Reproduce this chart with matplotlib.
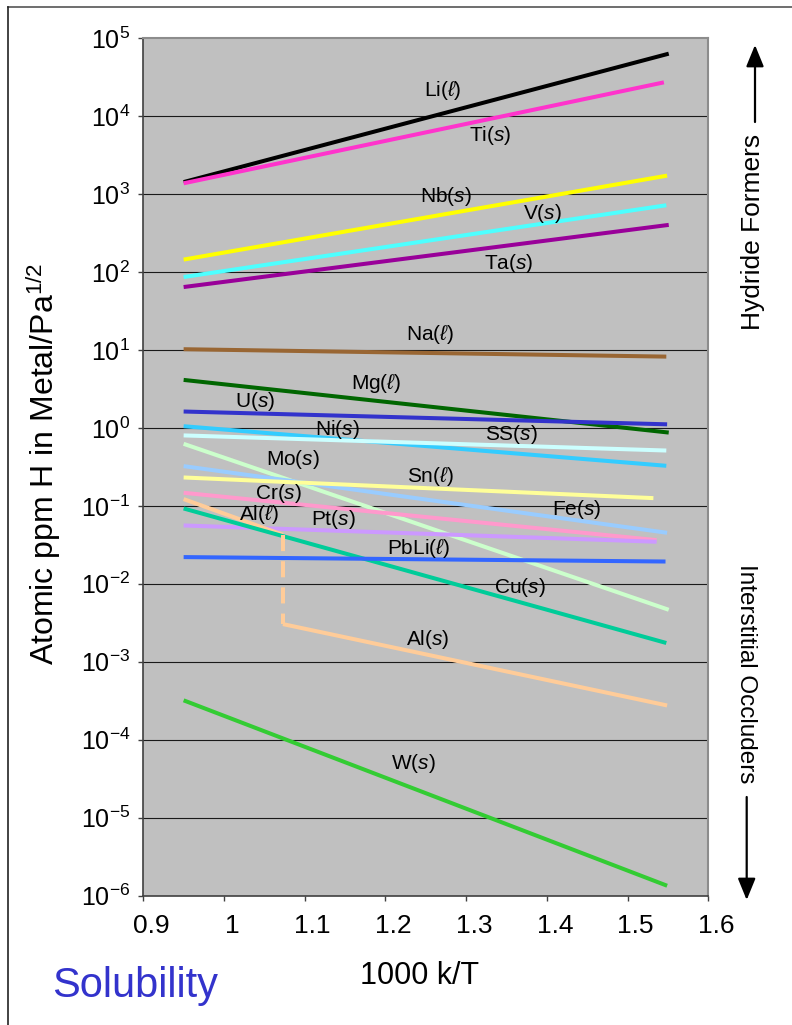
import matplotlib
matplotlib.use("Agg")
import matplotlib.pyplot as plt
from matplotlib.lines import Line2D
from matplotlib.transforms import ScaledTranslation

plt.rcParams["font.family"] = ["Liberation Sans", "DejaVu Sans"]
plt.rcParams["mathtext.fontset"] = "custom"
plt.rcParams["mathtext.rm"] = "Liberation Sans"
plt.rcParams["mathtext.it"] = "Liberation Sans:italic"
plt.rcParams["mathtext.bf"] = "Liberation Sans:bold"

# Solubility lines: 1000/T endpoints and solubility endpoints (atomic ppm H / Pa^1/2)
metals = ["Li", "Ti", "Nb", "V", "Ta", "Na", "Mg", "U", "Ni", "SS",
          "Mo", "Fe", "Sn", "Cr", "Pt", "Al_l", "Al_s", "Cu", "PbLi", "W"]
x_start = [0.95, 0.95, 0.95, 0.95, 0.95, 0.95, 0.95, 0.95, 0.95, 0.95,
           0.95, 0.95, 0.95, 0.95, 0.95, 0.95, 1.073, 0.95, 0.95, 0.95]
x_end = [1.551, 1.545, 1.549, 1.548, 1.551, 1.548, 1.551, 1.549, 1.548, 1.548,
         1.551, 1.549, 1.532, 1.536, 1.536, 1.073, 1.549, 1.548, 1.547, 1.549]
s_start = [1420, 1370, 144, 86, 64, 10.2, 4.12, 1.62, 1.05, 0.80,
           0.624, 0.323, 0.231, 0.147, 0.056, 0.122, 0.00304, 0.0925, 0.022, 3.2e-4]
s_end = [63000, 27000, 1718, 716, 401, 8.2, 0.87, 1.11, 0.326, 0.512,
         0.00464, 0.0451, 0.1255, 0.0363, 0.0346, 0.0425, 2.75e-4, 0.00174, 0.0193, 1.34e-6]
colors = ["#000000", "#ff33cc", "#ffff00", "#4dffff", "#990099", "#996633",
          "#006600", "#3333cc", "#33ccff", "#ccffff", "#ccffcc", "#99ccff",
          "#ffff99", "#ff99cc", "#cc99ff", "#ffcc99", "#ffcc99", "#00cc99",
          "#3366ff", "#33cc33"]

# Labels placed next to each line (text, 1000/T, solubility)
label_text = [r"Li($\ell$)", r"Ti($\mathit{s}$)", r"Nb($\mathit{s}$)", r"V($\mathit{s}$)",
              r"Ta($\mathit{s}$)", r"Na($\ell$)", r"Mg($\ell$)", r"U($\mathit{s}$)",
              r"Ni($\mathit{s}$)", r"SS($\mathit{s}$)", r"Mo($\mathit{s}$)",
              r"Fe($\mathit{s}$)", r"Sn($\ell$)", r"Cr($\mathit{s}$)", r"Pt($\mathit{s}$)",
              r"Al($\ell$)", r"Al($\mathit{s}$)", r"Cu($\mathit{s}$)", r"PbLi($\ell$)",
              r"W($\mathit{s}$)"]
label_x = [1.271, 1.330, 1.275, 1.394, 1.353, 1.255, 1.188, 1.039, 1.140, 1.356,
           1.086, 1.437, 1.256, 1.067, 1.135, 1.043, 1.253, 1.366, 1.241, 1.234]
label_y = [21500, 5540, 923, 565, 129, 15.6, 3.74, 2.17, 0.962, 0.83,
           0.389, 0.089, 0.238, 0.146, 0.0675, 0.0783, 0.00191, 0.00908, 0.0287, 5.0e-5]

x_ticks = [0.9, 1.0, 1.1, 1.2, 1.3, 1.4, 1.5, 1.6]
x_tick_labels = ["0.9", "1", "1.1", "1.2", "1.3", "1.4", "1.5", "1.6"]
y_exponents = [-6, -5, -4, -3, -2, -1, 0, 1, 2, 3, 4, 5]

fig = plt.figure(figsize=(7.92, 10.25), dpi=100)
ax = fig.add_axes([0.1809, 0.1262, 0.7134, 0.8367])
ax.set_facecolor("#c0c0c0")
ax.set_yscale("log")
ax.set_xlim(0.9, 1.6)
ax.set_ylim(1e-6, 1e5)

y_ticks = [10.0 ** e for e in y_exponents]
ax.set_yticks(y_ticks)
ax.set_yticklabels([r"$10^{%d}$" % e for e in y_exponents])
ax.yaxis.set_minor_locator(matplotlib.ticker.NullLocator())
ax.set_xticks(x_ticks)
ax.set_xticklabels(x_tick_labels)

for yv in y_ticks[1:-1]:
    ax.axhline(yv, color="#1a1a1a", lw=0.8, zorder=1)

for i in range(len(metals)):
    ax.plot([x_start[i], x_end[i]], [s_start[i], s_end[i]],
            color=colors[i], lw=2.9, solid_capstyle="butt", zorder=3)

# Dashed jump at the aluminium melting point
al_l = metals.index("Al_l")
al_s = metals.index("Al_s")
ax.plot([x_end[al_l], x_start[al_s]], [s_end[al_l], s_start[al_s]],
        color=colors[al_l], lw=2.9, dashes=(4, 2.5), zorder=3)

for t, lx, ly in zip(label_text, label_x, label_y):
    ax.text(lx, ly, t, fontsize=15, ha="center", va="center", zorder=4)

for side in ["top", "right"]:
    ax.spines[side].set_color("#8c8c8c")
    ax.spines[side].set_linewidth(1.5)
for side in ["left", "bottom"]:
    ax.spines[side].set_color("#404040")
    ax.spines[side].set_linewidth(1.2)

ax.tick_params(axis="x", direction="out", length=3.5, width=1, color="#404040",
               labelsize=19, pad=10)
ax.tick_params(axis="y", direction="out", length=3.5, width=1, color="#404040",
               labelsize=18, pad=6)
offset = ScaledTranslation(8 / 100, 0, fig.dpi_scale_trans)
for lab in ax.xaxis.get_majorticklabels():
    lab.set_transform(lab.get_transform() + offset)

fig.text(44 / 792, 1 - 464 / 1025, r"Atomic ppm H in Metal/Pa$^{1/2}$",
         rotation=90, fontsize=23, ha="center", va="center")
fig.text(420 / 792, 1 - 976 / 1025, "1000 k/T", fontsize=22,
         ha="center", va="center")
fig.text(52 / 792, 1 - 986 / 1025, "Solubility", fontsize=30, color="#3333cc",
         ha="left", va="center")

fig.text(753 / 792, 1 - 232 / 1025, "Hydride Formers", rotation=90, fontsize=19,
         ha="center", va="center")
fig.text(746 / 792, 1 - 674 / 1025, "Interstitial Occluders", rotation=270,
         fontsize=17.5, ha="center", va="center")

arrow_style = dict(arrowstyle="-|>,head_length=1.1,head_width=0.45",
                   color="black", lw=1.6, mutation_scale=12, shrinkA=0, shrinkB=0)
ax.annotate("", xy=(755 / 792, 1 - 45 / 1025), xytext=(755 / 792, 1 - 122 / 1025),
            xycoords="figure fraction", textcoords="figure fraction",
            arrowprops=arrow_style, annotation_clip=False)
ax.annotate("", xy=(746.7 / 792, 1 - 900 / 1025), xytext=(746.7 / 792, 1 - 797 / 1025),
            xycoords="figure fraction", textcoords="figure fraction",
            arrowprops=arrow_style, annotation_clip=False)

# Slide frame: top and left edges
fig.add_artist(Line2D([8 / 792, 1], [1 - 7 / 1025, 1 - 7 / 1025],
                      transform=fig.transFigure, color="#555555", lw=1.2))
fig.add_artist(Line2D([8 / 792, 8 / 792], [0, 1 - 7 / 1025],
                      transform=fig.transFigure, color="#222222", lw=1.2))

fig.savefig("out.png", dpi=100)
